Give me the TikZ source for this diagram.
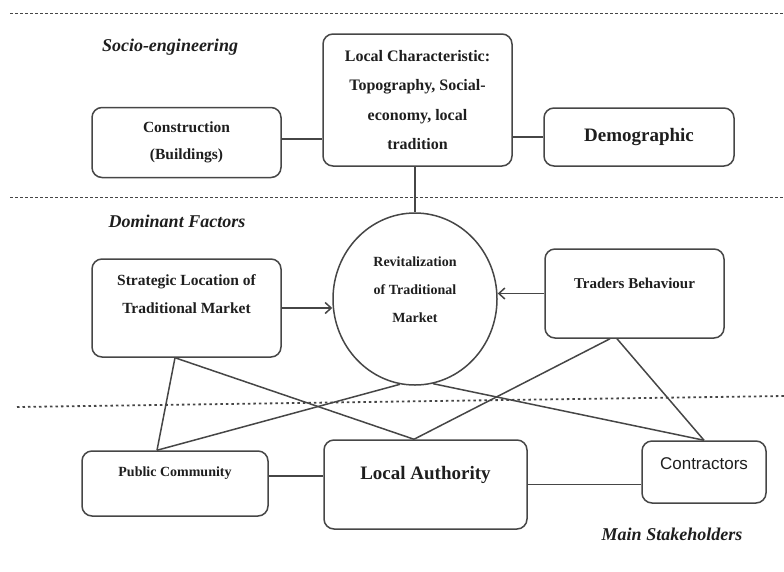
\documentclass[tikz,border=0pt]{standalone}
\usepackage{fontspec}
\setmainfont{Liberation Serif}
\newfontfamily\contrfont{Liberation Sans}
\usetikzlibrary{arrows.meta,shapes.geometric,calc}
\definecolor{edge}{RGB}{70,70,70}
\definecolor{ink}{RGB}{30,30,30}

\begin{document}
\begin{tikzpicture}[
  x=1pt, y=-1pt,
  >={Straight Barb[length=6pt,width=11pt]},
  box/.style={draw=edge, line width=1.5pt, rounded corners=10pt,
    align=center, inner sep=0pt, text=ink, font=\bfseries},
  hub/.style={draw=edge, ellipse, line width=1.5pt, align=center,
    inner sep=0pt, text=ink, font=\bfseries},
  link/.style={draw=edge, line width=1.5pt},
  zone/.style={font=\bfseries\itshape\fontsize{18}{20}\selectfont, text=ink},
  divider/.style={draw=edge, line width=1pt, dash pattern=on 3pt off 2pt},
  dotline/.style={draw=edge, line width=1.8pt, dash pattern=on 2.5pt off 3pt}
]
\useasboundingbox (0,0) rectangle (784,571);

% section dividers
\draw[divider] (10,13) -- (784,13);
\draw[divider] (10,197) -- (784,197);
\draw[dotline] (17,407) -- (784,396);

% zone titles
\node[zone] (socio) at (170,47) {Socio-engineering};
\node[zone] (dominant) at (177,221) {Dominant Factors};
\node[zone] (stake) at (672,534) {Main Stakeholders};

% socio-engineering row
\node[box, minimum width=189, minimum height=132,
  font=\bfseries\fontsize{16}{29.5}\selectfont] (local) at (417.5,100)
  {Local Characteristic:\\Topography, Social-\\economy, local\\tradition};
\node[box, minimum width=189, minimum height=70,
  font=\bfseries\fontsize{15.5}{27}\selectfont] (constr) at (186.5,142.5)
  {Construction\\(Buildings)};
\node[box, minimum width=190, minimum height=58,
  font=\bfseries\fontsize{19}{22}\selectfont] (demog) at (639,137)
  {Demographic};

% dominant factors
\node[hub, minimum width=164, minimum height=172,
  text height=46pt, text depth=0pt,
  font=\bfseries\fontsize{14}{28}\selectfont] (market) at (415,299)
  {Revitalization\\of Traditional\\Market};
\node[box, minimum width=189, minimum height=98,
  text height=11pt, text depth=0pt,
  font=\bfseries\fontsize{15.5}{28}\selectfont] (strat) at (186.5,308)
  {Strategic Location of\\Traditional Market};
\node[box, minimum width=179, minimum height=89,
  text height=10.5pt, text depth=21pt,
  font=\bfseries\fontsize{15}{18}\selectfont] (trader) at (634.5,293.5)
  {Traders Behaviour};

% main stakeholders
\node[box, minimum width=186, minimum height=65,
  text height=9.5pt, text depth=23pt,
  font=\bfseries\fontsize{14}{17}\selectfont] (public) at (175,483.5)
  {Public Community};
\node[box, minimum width=203, minimum height=89,
  text height=13pt, text depth=23pt,
  font=\bfseries\fontsize{19}{22}\selectfont] (authority) at (425.5,484.5)
  {Local Authority};
\node[box, minimum width=124, minimum height=62,
  text height=12pt, text depth=18pt,
  font=\contrfont\mdseries\fontsize{17}{20}\selectfont] (contr) at (704,472)
  {Contractors};

% connectors, top row
\draw[link] ([yshift=3.5]constr.east) -- ([yshift=3.5]constr.east -| local.west);
\draw[link] (demog.west -| local.east) -- (demog.west);
\draw[link] (market.north |- local.south) -- (market.north);

% arrows into the market
\draw[link, ->] (strat.east) -- (strat.east -| market.west);
\draw[link, ->] (trader.west) -- (trader.west -| market.east);

% web of links to the stakeholders
\draw[link] ([xshift=-11.5]strat.south) -- ([xshift=-18]public.north);
\draw[link] ([xshift=-11.5]strat.south) -- ([xshift=-11.5]authority.north);
\draw[link] (market.-100) -- ([xshift=-18]public.north);
\draw[link] (market.-78) -- (contr.north);
\draw[link] ([xshift=-24.5]trader.south) -- ([xshift=-11.5]authority.north);
\draw[link] ([xshift=-17.5]trader.south) -- (contr.north);

% stakeholder row
\draw[link] ([yshift=7.5]public.east) -- ([yshift=7.5]public.east -| authority.west);
\draw[link] (authority.east) -- (authority.east -| contr.west);
\end{tikzpicture}
\end{document}
